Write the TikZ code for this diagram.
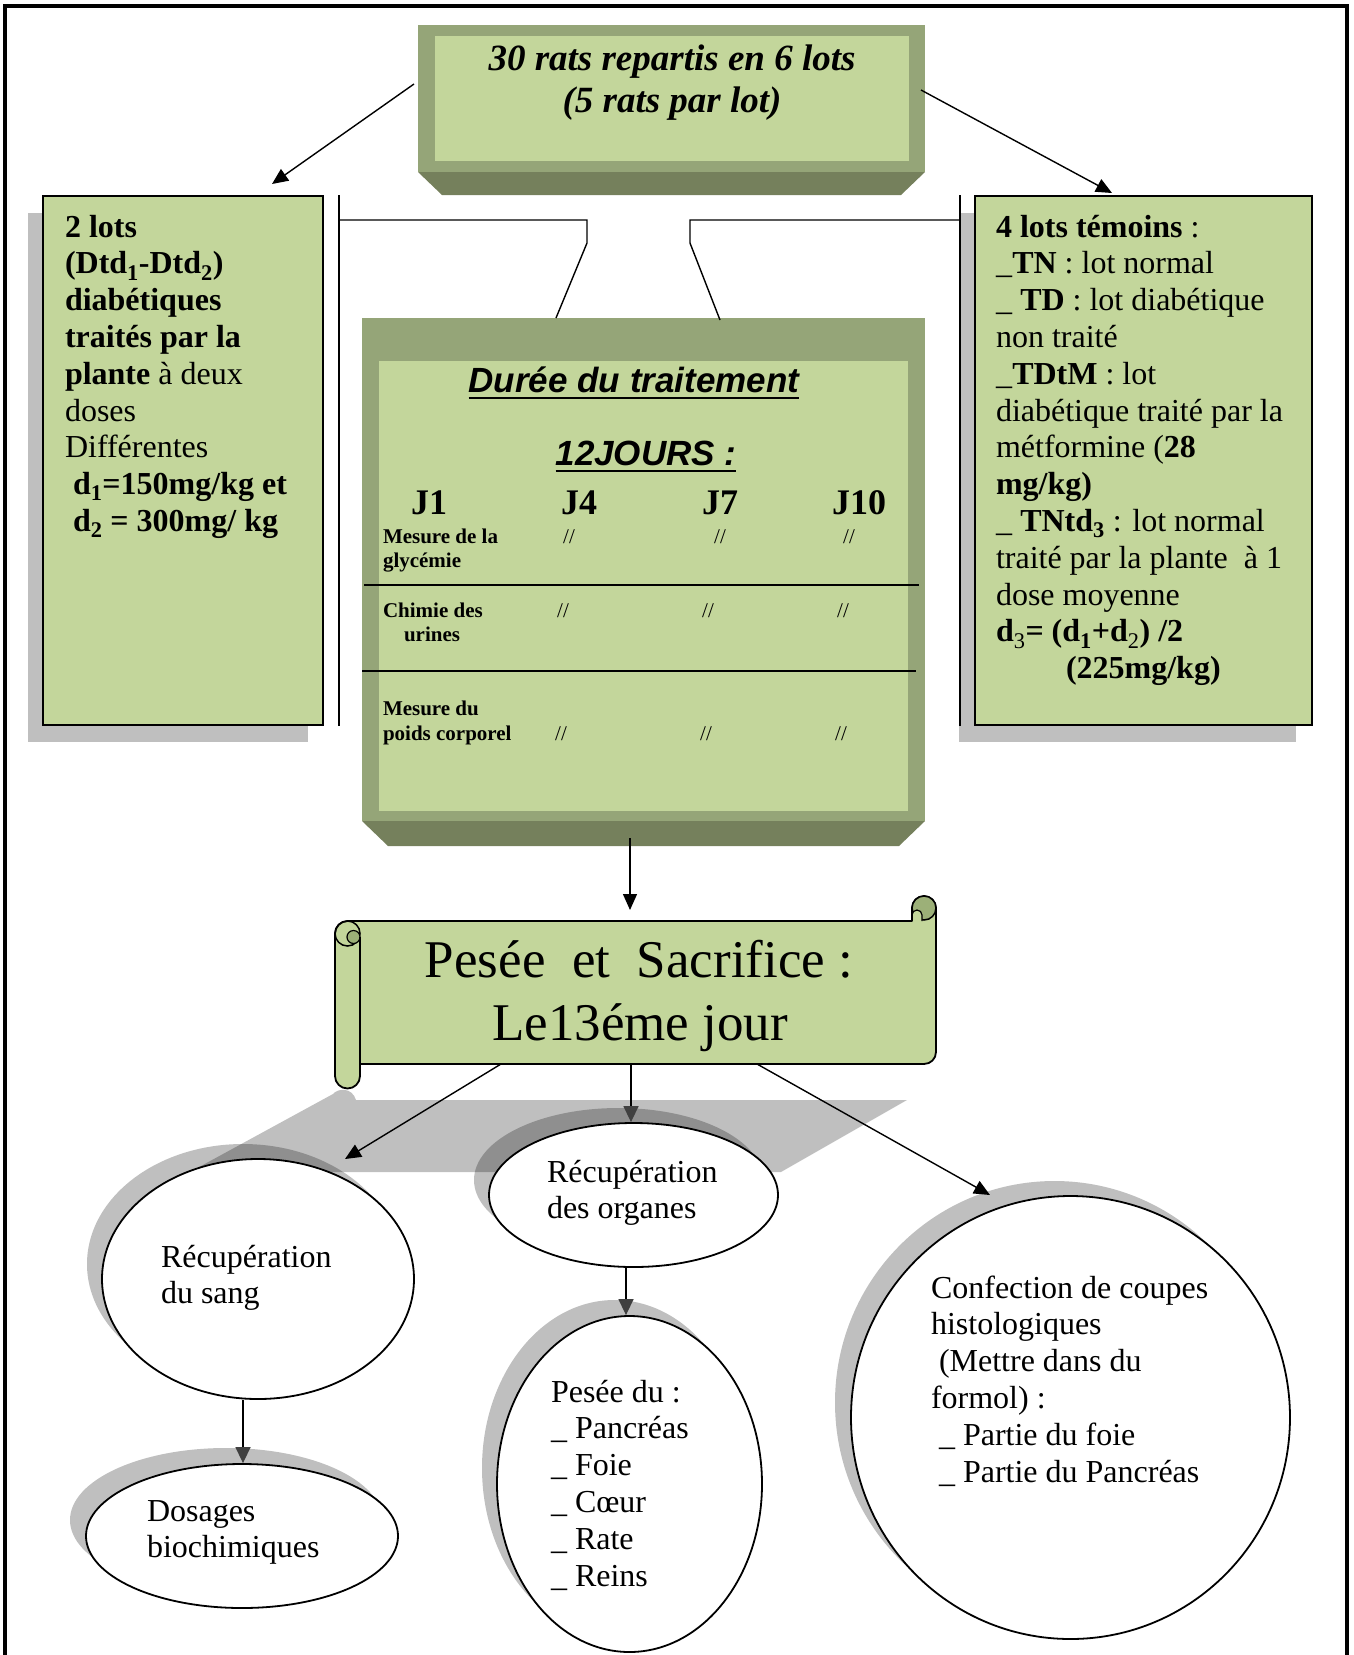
\documentclass[tikz,border=0pt]{standalone}
\usepackage{fontspec}
\setmainfont{Liberation Serif}
\newfontfamily\arialfont{Liberation Sans}
\usetikzlibrary{arrows.meta,shapes.geometric,calc}

\definecolor{leaf}{RGB}{195,214,155}
\definecolor{sage}{RGB}{149,165,120}
\definecolor{moss}{RGB}{117,128,92}
\definecolor{curl}{RGB}{156,176,120}
\definecolor{ashgray}{RGB}{191,191,191}
\definecolor{headgray}{RGB}{64,64,64}

\newcommand\bodyfont{\fontsize{32}{36.8}\selectfont}
\newcommand\rowfont{\fontsize{21}{24}\selectfont}

\begin{document}
\begin{tikzpicture}[x=1pt,y=-1pt,
  wire/.style={line width=1.4pt},
  arr/.style={wire,-{Triangle[length=16pt,width=14pt]}},
  garr/.style={wire,-{Triangle[length=16pt,width=15pt,color=headgray]}},
  lbl/.style={inner sep=0pt,outer sep=0pt,anchor=base west},
  ctr/.style={inner sep=0pt,outer sep=0pt,anchor=base},
  oval/.style={ellipse,draw,line width=1.8pt,fill=white,inner sep=0pt},
  haze/.style={fill=black,fill opacity=0.25},
  card/.style={draw,line width=2pt,fill=leaf,inner sep=0pt},
  divider/.style={line width=1.8pt},
  heading/.style={ctr,font=\arialfont\bfseries\itshape\fontsize{35}{40}\selectfont},
  day/.style={ctr,font=\bfseries\fontsize{36}{40}\selectfont},
  rowlbl/.style={lbl,font=\rowfont\bfseries},
  ditto/.style={ctr,font=\rowfont},
]
\useasboundingbox (0,0) rectangle (1354,1655);

% page frame
\draw[line width=3.5pt] (5,1655) -- (5,6) -- (1347,6) -- (1347,1655);

% ---------- top box ----------
\fill[moss] (418,172) -- (925,172) -- (901,195) -- (442,195) -- cycle;
\node[fill=sage,inner sep=0pt,minimum width=507,minimum height=147] (lots) at (671.5,98.5) {};
\fill[leaf] (435,36) rectangle (909,161);
\node[ctr,font=\bfseries\itshape\fontsize{37}{42}\selectfont] (lotsA) at (672,70) {30 rats repartis en 6 lots};
\node[ctr,font=\bfseries\itshape\fontsize{37}{42}\selectfont] (lotsB) at (672,112) {(5 rats par lot)};

% ---------- side boxes ----------
\fill[ashgray] (28,213) rectangle (308,742);
\node[card,minimum width=280,minimum height=529] (diab) at (183,460.5) {};
\fill[ashgray] (959,213) rectangle (1296,742);
\node[card,minimum width=337,minimum height=529] (temo) at (1143.5,460.5) {};

\node[lbl] (diabtxt) at (65,237) {\parbox[t]{250pt}{\bodyfont
  \textbf{2 lots}\\
  \textbf{(Dtd\textsubscript{1}-Dtd\textsubscript{2})}\\
  \textbf{diabétiques}\\
  \textbf{traités par la}\\
  \textbf{plante} à deux\\
  doses\\
  Différentes\\
  \hspace*{8pt}\textbf{d\textsubscript{1}=150mg/kg et}\\
  \hspace*{8pt}\textbf{d\textsubscript{2} = 300mg/ kg}}};

\node[lbl] (temotxt) at (996,237) {\parbox[t]{300pt}{\bodyfont
  \textbf{4 lots témoins} :\\
  \_\textbf{TN} : lot normal\\
  \_ \textbf{TD} : lot diabétique\\
  non traité\\
  \_\textbf{TDtM} : lot\\
  diabétique traité par la\\
  métformine (\textbf{28}\\
  \textbf{mg/kg)}\\
  \_ \textbf{TNtd\textsubscript{3}} : lot normal\\
  traité par la plante\ \ à 1\\
  dose moyenne\\
  \textbf{d}\textsubscript{3}\textbf{= (d\textsubscript{1}+d}\textsubscript{2}\textbf{) /2}\\
  \hspace*{70pt}\textbf{(225mg/kg)}}};

% ---------- treatment box ----------
\fill[moss] (362,821) -- (925,821) -- (899,846) -- (388,846) -- cycle;
\node[fill=sage,inner sep=0pt,minimum width=563,minimum height=503] (plan) at (643.5,569.5) {};
\fill[leaf] (379,361) rectangle (908,811);

\node[heading] (duree) at (634,392) {Durée du traitement};
\draw[line width=2.5pt] ([yshift=-6pt]duree.base west) -- ([yshift=-6pt]duree.base east);
\node[heading] (jours) at (646,465) {12JOURS :};
\draw[line width=2.5pt] ([yshift=-6pt]jours.base west) -- ([yshift=-6pt]jours.base east);

\node[day] (j1) at (429,514) {J1};
\node[day] (j4) at (579,514) {J4};
\node[day] (j7) at (720,514) {J7};
\node[day] (j10) at (859,514) {J10};

\node[rowlbl] (glyA) at (383,543) {Mesure de la};
\node[rowlbl] (glyB) at (383,567) {glycémie};
\node[ditto] (g4) at (569,543) {//};
\node[ditto] (g7) at (720,543) {//};
\node[ditto] (g10) at (849,543) {//};
\draw[divider] (364,585) -- (919,585);

\node[rowlbl] (uriA) at (383,617) {Chimie des};
\node[rowlbl] (uriB) at (404,641) {urines};
\node[ditto] (u4) at (563,617) {//};
\node[ditto] (u7) at (708,617) {//};
\node[ditto] (u10) at (843,617) {//};
\draw[divider] (362,671) -- (916,671);

\node[rowlbl] (poiA) at (383,715) {Mesure du};
\node[rowlbl] (poiB) at (383,740) {poids corporel};
\node[ditto] (p4) at (561,740) {//};
\node[ditto] (p7) at (706,740) {//};
\node[ditto] (p10) at (841,740) {//};

% ---------- brackets joining the side boxes to the treatment box ----------
\coordinate (brL) at (556,318);
\coordinate (brR) at (720,320);
\draw[wire] (339,195) -- (339,726);
\draw[wire] (339,220) -- (587,220) -- (587,243) -- (brL);
\draw[wire] (960,195) -- (960,726);
\draw[wire] (960,220) -- (690,220) -- (690,243) -- (brR);

% ---------- arrows from the top box ----------
\coordinate (lotsW) at (414,84);
\coordinate (lotsE) at (921,90);
\coordinate (diabTip) at (272,184);
\coordinate (temoTip) at (1112,193);
\draw[arr] (lotsW) -- (diabTip);
\draw[arr] (lotsE) -- (temoTip);

% ---------- scroll ----------
\fill[haze] (190,1172) -- (333,1094) .. controls (338,1088) and (352,1087) .. (356,1100)
  -- (907,1100) -- (781,1172) -- cycle;

\node[inner sep=0pt,minimum width=576,minimum height=143] (scroll) at (648,992.5) {};
\filldraw[fill=leaf,line width=1.8pt,line join=round]
  (347.5,921) -- (912,921) -- (912,908) arc[start angle=180,end angle=360,radius=12]
  -- (936,1052) arc[start angle=0,end angle=90,radius=12]
  -- (360,1064) -- (360,1076) arc[start angle=0,end angle=180,radius=12.5]
  -- (335,933.5) arc[start angle=180,end angle=270,radius=12.5] -- cycle;
% right curl
\filldraw[fill=curl,line width=1.5pt] (924,908) circle[radius=12];
\filldraw[fill=leaf,line width=1.2pt] (912,921) -- (912,915) arc[start angle=180,end angle=360,radius=5] -- (922,921);
\draw[line width=1.8pt] (912,921) -- (912,908);
% left curl
\draw[line width=1.5pt] (347.5,933.5) circle[radius=12.5];
\filldraw[fill=curl,line width=1.2pt] (353.5,937) circle[radius=6.5];
\draw[line width=1.8pt] (360,937) -- (360,1064);

\node[ctr,font=\fontsize{53}{63}\selectfont] (sacA) at (639,977) {Pesée\ \ et\ \ Sacrifice :};
\node[ctr,font=\fontsize{53}{63}\selectfont] (sacB) at (640,1040) {Le13éme jour};

\coordinate (planOut) at (630,838);
\coordinate (scrollIn) at (630,910);
\draw[arr] (planOut) -- (scrollIn);

% ---------- ovals ----------
\fill[haze] (243,1264) ellipse[x radius=156pt,y radius=120pt];
\fill[haze] (618.5,1180) ellipse[x radius=144.5pt,y radius=72pt];
\fill[haze] (614.5,1468) ellipse[x radius=132.5pt,y radius=168pt];
\fill[haze] (226,1520) ellipse[x radius=156pt,y radius=72pt];
\fill[haze] (1054.5,1402.5) ellipse[x radius=219.5pt,y radius=221.5pt];

\node[oval,minimum width=312,minimum height=240] (sang) at (258,1279) {};
\node[oval,minimum width=289,minimum height=144] (organes) at (633.5,1195) {};
\node[oval,minimum width=265,minimum height=336] (pesee) at (629.5,1484) {};
\node[oval,minimum width=312,minimum height=144] (dosage) at (242,1536) {};
\node[oval,minimum width=439,minimum height=443] (coupes) at (1070.5,1417.5) {};

\node[lbl] (sangtxt) at (161,1267) {\parbox[t]{240pt}{\bodyfont Récupération\\du sang}};
\node[lbl] (orgtxt) at (547,1182) {\parbox[t]{220pt}{\bodyfont Récupération\\des organes}};
\node[lbl] (pestxt) at (551,1402) {\parbox[t]{200pt}{\bodyfont Pesée du :\\\_ Pancréas\\\_ Foie\\\_ Cœur\\\_ Rate\\\_ Reins}};
\node[lbl] (dostxt) at (147,1521) {\parbox[t]{240pt}{\bodyfont Dosages\\biochimiques}};
\node[lbl] (coutxt) at (931,1298) {\parbox[t]{330pt}{\bodyfont Confection de coupes\\histologiques\\\hspace*{8pt}(Mettre dans du\\formol) :\\\hspace*{8pt}\_ Partie du foie\\\hspace*{8pt}\_ Partie du Pancréas}};

% ---------- arrows in the lower part ----------
\coordinate (sOutL) at (501,1064);
\coordinate (sOutM) at (631,1064);
\coordinate (sOutR) at (757,1064);
\coordinate (sangTip) at (345,1159);
\coordinate (coupesTip) at (990,1195);
\draw[arr] (sOutL) -- (sangTip);
\draw[garr] (sOutM) -- (organes.north -| sOutM);
\draw[arr] (sOutR) -- (coupesTip);
\draw[garr] (organes.south -| 626,0) -- (pesee.north -| 626,0);
\draw[garr] (sang.south -| 243,0) -- (dosage.north -| 243,0);
\end{tikzpicture}
\end{document}
